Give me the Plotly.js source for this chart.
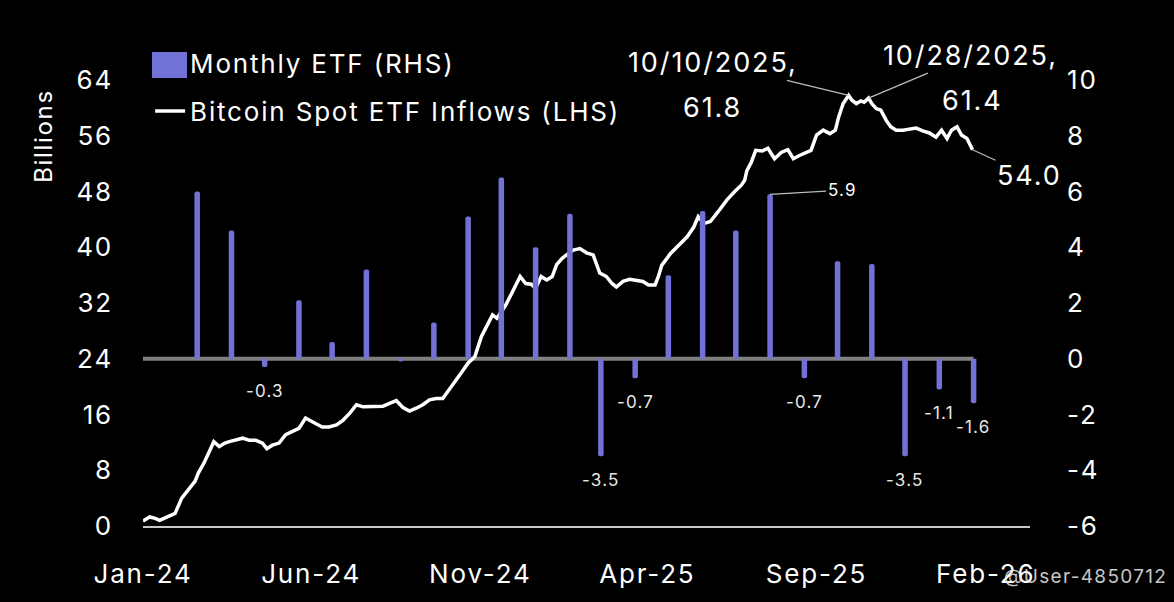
<!DOCTYPE html>
<html>
<head>
<meta charset="utf-8">
<script src="https://cdn.plot.ly/plotly-3.0.1.min.js"></script>
<style>
html,body{margin:0;padding:0;background:#000;}
#chart{width:1174px;height:602px;}
svg text{letter-spacing:0.07em;}
</style>
</head>
<body>
<div id="chart"></div>
<script>
// ---- Data ----
const lineDates = [
'2024-01-11','2024-01-17','2024-01-22','2024-01-26','2024-02-02','2024-02-09','2024-02-15','2024-02-21','2024-02-27',
'2024-03-01','2024-03-06','2024-03-11','2024-03-15','2024-03-20','2024-03-25','2024-03-29','2024-04-04','2024-04-10',
'2024-04-16','2024-04-22','2024-04-28','2024-05-02','2024-05-07','2024-05-13','2024-05-19','2024-05-25','2024-05-31',
'2024-06-06','2024-06-11','2024-06-15','2024-06-21','2024-06-27','2024-07-04','2024-07-10','2024-07-16','2024-07-22',
'2024-07-28','2024-08-03','2024-08-09','2024-08-15','2024-08-21','2024-08-27','2024-09-02','2024-09-08','2024-09-14',
'2024-09-20','2024-09-26','2024-10-02','2024-10-08','2024-10-14','2024-10-20','2024-10-24','2024-10-31','2024-11-06',
'2024-11-12','2024-11-19','2024-11-22','2024-11-26','2024-12-04','2024-12-11','2024-12-17','2024-12-22','2024-12-27',
'2024-12-31','2025-01-05','2025-01-10','2025-01-15','2025-01-19','2025-01-24','2025-01-28','2025-02-03','2025-02-09',
'2025-02-15','2025-02-21','2025-02-24','2025-02-27','2025-03-05','2025-03-10','2025-03-14','2025-03-20','2025-03-26',
'2025-04-01','2025-04-07','2025-04-12','2025-04-18','2025-04-21','2025-04-24','2025-05-02','2025-05-09','2025-05-17',
'2025-05-23','2025-05-27','2025-06-01','2025-06-07','2025-06-14','2025-06-22','2025-06-29','2025-07-05','2025-07-08',
'2025-07-10','2025-07-14','2025-07-18','2025-07-24','2025-07-29','2025-08-04','2025-08-10','2025-08-16','2025-08-21',
'2025-08-27','2025-09-02','2025-09-06','2025-09-11','2025-09-17','2025-09-23','2025-09-28','2025-10-01','2025-10-05',
'2025-10-10','2025-10-13','2025-10-17','2025-10-21','2025-10-24','2025-10-28','2025-10-31','2025-11-04','2025-11-08',
'2025-11-13','2025-11-17','2025-11-22','2025-11-28','2025-12-04','2025-12-10','2025-12-16','2025-12-22','2025-12-28',
'2026-01-02','2026-01-07','2026-01-11','2026-01-16','2026-01-20','2026-01-25','2026-01-28','2026-01-30'
];
const lineValues = [
0.7,1.3,1.1,0.8,1.3,1.8,4.0,5.2,6.4,
7.6,9.0,10.7,12.1,11.4,11.9,12.1,12.3,12.6,
12.3,12.3,11.9,11.1,11.6,11.9,13.1,13.5,14.0,
15.5,15.0,14.7,14.2,14.2,14.5,15.2,16.2,17.4,
17.1,17.1,17.2,17.2,17.6,18.0,17.0,16.5,16.9,
17.4,18.1,18.3,18.3,19.6,20.8,21.8,23.4,24.3,
27.2,29.3,30.3,29.8,31.7,33.9,35.8,34.8,34.7,
34.1,35.8,35.3,35.8,37.5,38.4,38.9,39.6,39.8,
39.2,38.9,37.7,36.3,35.8,34.8,34.3,35.1,35.4,
35.3,35.1,34.6,34.6,35.8,37.4,39.1,40.3,41.5,
42.9,44.4,43.4,43.7,45.1,46.8,48.0,48.9,49.6,
51.0,52.2,53.9,53.8,54.2,52.7,53.6,54.0,52.7,
53.2,53.6,53.9,56.1,56.8,56.3,56.8,58.7,60.6,
61.8,61.1,60.6,61.0,60.8,61.4,60.6,59.9,59.7,
58.2,57.3,56.8,56.8,56.9,57.1,56.7,56.4,55.8,
56.8,55.6,56.8,57.3,56.1,55.6,54.7,54.0
];
const barMonths = [
'2024-02-29','2024-03-31','2024-04-30','2024-05-31','2024-06-30','2024-07-31','2024-08-31','2024-09-30',
'2024-10-31','2024-11-30','2024-12-31','2025-01-31','2025-02-28','2025-03-31','2025-04-30','2025-05-31',
'2025-06-30','2025-07-31','2025-08-31','2025-09-30','2025-10-31','2025-11-30','2025-12-31','2026-01-31'
];
const barValues = [6.0,4.6,-0.3,2.1,0.6,3.2,-0.1,1.3,5.1,6.5,4.0,5.2,-3.5,-0.7,3.0,5.3,4.6,5.9,-0.7,3.5,3.4,-3.5,-1.1,-1.6];
const labelledNegMonths = ['2024-04-30','2025-02-28','2025-03-31','2025-08-31','2025-11-30','2025-12-31','2026-01-31'];
const labelledPosMonth = '2025-07-31';
const peakDates = ['2025-10-10','2025-10-28'];
const xTickVals = ['2024-01-11','2024-06-11','2024-11-11','2025-04-11','2025-09-11','2026-02-11'];
const xTickText = ['Jan-24','Jun-24','Nov-24','Apr-25','Sep-25','Feb-26'];
const leftTicks = [0,8,16,24,32,40,48,56,64];
const rightTicks = [-6,-4,-2,0,2,4,6,8,10];
const seriesNames = ['Monthly ETF (RHS)','Bitcoin Spot ETF Inflows (LHS)'];

// ---- Styles ----
const FONT = 'Inter, Lato, "Open Sans", sans-serif';
const BAR_COLOR = '#7171d6';
const LEAD = '#bdbdbd';
const DAY = 86400000;

function fmtDate(s){const p=s.split('-');return (+p[1])+'/'+(+p[2])+'/'+p[0];}

const traces = [
  {type:'bar', x:barMonths, y:barValues, yaxis:'y2', name:seriesNames[0],
   marker:{color:BAR_COLOR, line:{width:0}}, width:barMonths.map(()=>5*DAY),
   legendgroup:'a'},
  {type:'scatter', mode:'lines', x:lineDates, y:lineValues, yaxis:'y', name:seriesNames[1],
   line:{color:'#ffffff', width:3.5}, legendgroup:'b'}
];

const annotations = [];
annotations.push({xref:'paper', yref:'paper', x:-0.112, y:0.874, xanchor:'center', yanchor:'middle',
  text:'Billions', textangle:-90, showarrow:false, font:{size:24, color:'#fff', family:FONT}});

// Peak annotations
const peakOffsets = [{ax:-136, ay:-33, vx:-136, vy:-12}, {ax:102, ay:-43, vx:104, vy:-2}];
peakDates.forEach((d,k)=>{
  const i = lineDates.indexOf(d);
  const o = peakOffsets[k];
  annotations.push({x:d, y:lineValues[i], xref:'x', yref:'y', text:fmtDate(d)+',', showarrow:true,
    arrowhead:0, arrowwidth:1.2, arrowcolor:LEAD, ax:o.ax, ay:o.ay, font:{size:27,color:'#fff',family:FONT}});
  annotations.push({x:d, y:lineValues[i], xref:'x', yref:'y', text:lineValues[i].toFixed(1), showarrow:false,
    xshift:o.vx, yshift:o.vy, font:{size:27,color:'#fff',family:FONT}});
});
// last value
const li = lineDates.length-1;
annotations.push({x:lineDates[li], y:lineValues[li], xref:'x', yref:'y', text:lineValues[li].toFixed(1),
  showarrow:true, arrowhead:0, arrowwidth:1.2, arrowcolor:LEAD, ax:57, ay:26, font:{size:27,color:'#fff',family:FONT}});
// bar labels
const pi = barMonths.indexOf(labelledPosMonth);
annotations.push({x:labelledPosMonth, y:barValues[pi], xref:'x', yref:'y2', text:barValues[pi].toFixed(1),
  showarrow:true, arrowhead:0, arrowwidth:1.2, arrowcolor:LEAD, ax:72, ay:-4, font:{size:17,color:'#fff',family:FONT}});
labelledNegMonths.forEach(m=>{
  const i = barMonths.indexOf(m);
  annotations.push({x:m, y:barValues[i], xref:'x', yref:'y2', text:barValues[i].toFixed(1), showarrow:false,
    yshift:-24, font:{size:17,color:'#e8e8e8',family:FONT}});
});
// watermark
annotations.push({xref:'paper', yref:'paper', x:1.063, y:-0.114, xanchor:'center', yanchor:'middle',
  text:'@User-4850712', showarrow:false, font:{size:19,color:'rgba(235,235,235,0.85)',family:FONT}});

const layout = {
  width:1174, height:602,
  paper_bgcolor:'#000', plot_bgcolor:'#000',
  margin:{l:143, r:144, t:80, b:76, pad:0},
  font:{family:FONT, color:'#fff', size:26},
  showlegend:true,
  legend:{x:0.008, y:1.09, xanchor:'left', yanchor:'top', bgcolor:'rgba(0,0,0,0)',
    font:{size:26,color:'#fff',family:FONT}, traceorder:'grouped', tracegroupgap:11, borderwidth:0},
  barcornerradius:3,
  xaxis:{type:'date', range:['2024-01-11','2026-03-23'], tickmode:'array', tickvals:xTickVals, ticktext:xTickText,
    showgrid:false, zeroline:false, showline:true, linecolor:'#c8c8c8', linewidth:2, ticks:'',
    ticklabelstandoff:24, tickfont:{size:26,color:'#fff',family:FONT}},
  yaxis:{range:[0,64], tickmode:'array', tickvals:leftTicks, ticktext:leftTicks.map(String),
    showgrid:false, zeroline:false, showline:false, ticks:'', ticklabelstandoff:29,
    tickfont:{size:26,color:'#fff',family:FONT}},
  yaxis2:{range:[-6,10], overlaying:'y', side:'right', tickmode:'array', tickvals:rightTicks,
    ticktext:rightTicks.map(String), showgrid:false, zeroline:false, showline:false, ticks:'',
    ticklabelstandoff:36, tickfont:{size:26,color:'#fff',family:FONT}},
  shapes:[
    {type:'line', xref:'x', yref:'y2', x0:lineDates[0], x1:barMonths[barMonths.length-1], y0:0, y1:0,
     line:{color:'#808080', width:4}, layer:'below'},
    // enlarged legend key for the bar series
    {type:'rect', xref:'paper', yref:'paper', x0:0.0101, x1:0.0496, y0:1.0045, y1:1.0628,
     fillcolor:BAR_COLOR, line:{width:0}, layer:'above'}
  ],
  annotations:annotations
};

Plotly.newPlot('chart', traces, layout, {staticPlot:true, displayModeBar:false});
</script>
</body>
</html>
